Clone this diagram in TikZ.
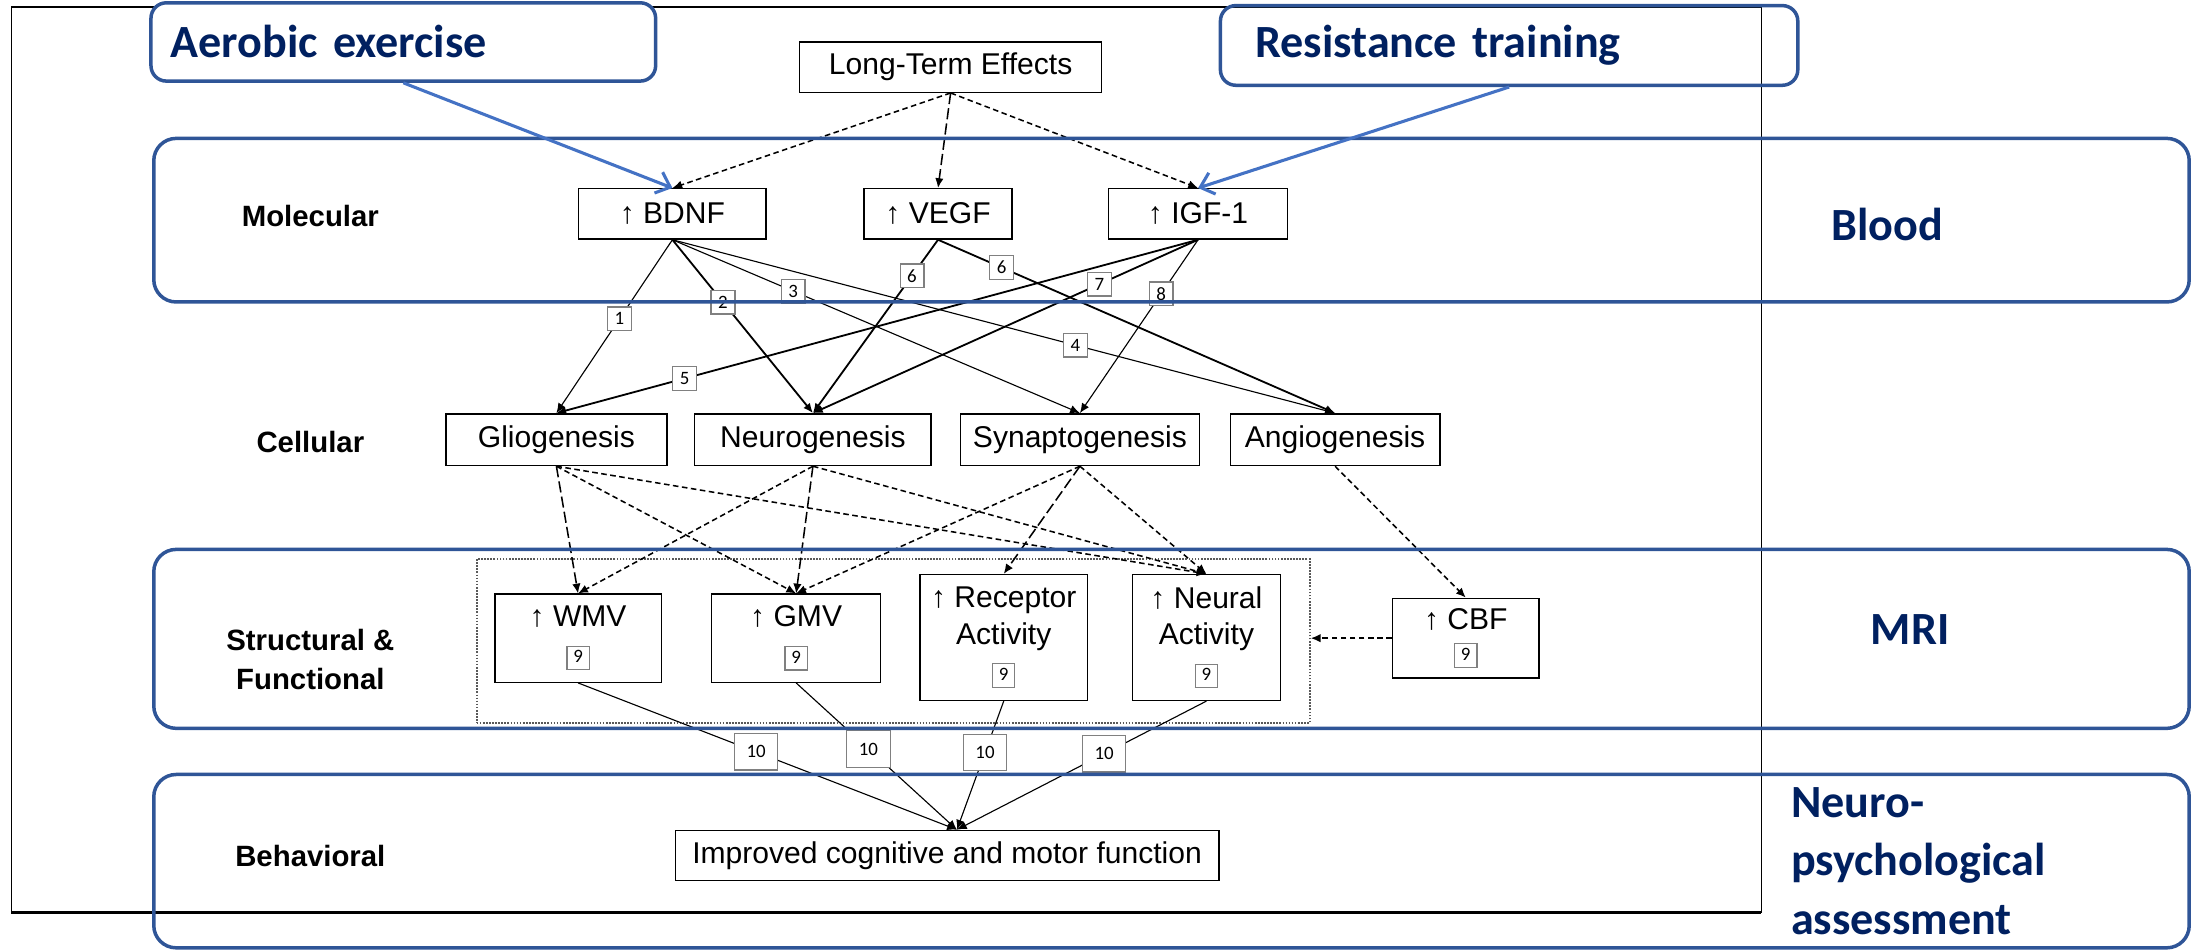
\documentclass[tikz,border=0pt]{standalone}
\usepackage{fontspec}
\setmainfont{Liberation Sans}
\newfontfamily\calibfont{Carlito}
\usetikzlibrary{arrows.meta}
\definecolor{bandblue}{RGB}{47,85,151}
\definecolor{navy}{RGB}{0,32,96}
\definecolor{arrblue}{RGB}{68,114,196}
\newcommand{\nbox}[1]{{\color{gray}\setlength{\fboxrule}{0.9pt}\setlength{\fboxsep}{0pt}\fbox{\color{black}\rule[-4.5pt]{0pt}{16pt}\makebox[15pt]{\calibfont\fontsize{13.5}{14}\selectfont #1}}}}

\begin{document}
\begin{tikzpicture}[x=1pt,y=-1pt,
	box/.style={draw, line width=1pt, inner sep=0pt, align=center, font=\fontsize{21.5}{26}\selectfont},
	lvl/.style={inner sep=0pt, align=center, font=\bfseries\fontsize{21}{28}\selectfont},
	num/.style={draw=gray, line width=0.9pt, fill=white, inner sep=0pt, minimum width=17pt, minimum height=17pt, font=\calibfont\fontsize{13.5}{14}\selectfont},
	bignum/.style={num, minimum width=31pt, minimum height=26pt},
	band/.style={draw=bandblue, line width=2.5pt, rounded corners=16pt},
	head/.style={draw=bandblue, line width=2.5pt, rounded corners=11pt, inner ysep=0pt, align=left, text=navy, font=\calibfont\bfseries\fontsize{33}{42}\selectfont},
	side/.style={inner sep=0pt, align=left, text=navy, font=\calibfont\bfseries\fontsize{33}{42}\selectfont},
	link/.style={-{Latex[length=7pt,width=6pt]}, line width=0.8pt},
	hlink/.style={link, line width=1.3pt},
	dsh/.style={link, line width=1.1pt, dash pattern=on 4pt off 2.5pt},
	ldsh/.style={link, line width=1.1pt, dash pattern=on 8pt off 3pt},
	sfx/.style={-{Straight Barb[length=9pt,width=16pt]}, draw=arrblue, line width=2.2pt}]
	\useasboundingbox (0,0) rectangle (1568,680);
	% outer frame
	\draw[line width=0.8pt] (8,653) -- (8,5) -- (1260,5) -- (1260,653);
	\draw[line width=2pt] (8,653) -- (1260,653);

	\node[box, minimum width=216pt, minimum height=36pt] (ltm) at (680,48) {Long-Term Effects};
	\node[box, minimum width=134pt, minimum height=36pt] (bdnf) at (481,153) {↑ BDNF};
	\node[box, minimum width=106pt, minimum height=36pt] (vegf) at (671,153) {↑ VEGF};
	\node[box, minimum width=128pt, minimum height=36pt] (igf) at (857,153) {↑ IGF-1};

	\node[box, minimum width=158pt, minimum height=37pt] (glio) at (398,314.5) {Gliogenesis};
	\node[box, minimum width=169pt, minimum height=37pt] (neuro) at (581.5,314.5) {Neurogenesis};
	\node[box, minimum width=171pt, minimum height=37pt] (synap) at (772.5,314.5) {Synaptogenesis};
	\node[box, minimum width=150pt, minimum height=37pt] (angio) at (955,314.5) {Angiogenesis};

	\node[draw=black!65, densely dotted, line width=1.2pt, minimum width=596pt, minimum height=117pt] (grp) at (639,458.5) {};
	\node[box, minimum width=119pt, minimum height=63pt] (wmv) at (413.5,456.5) {↑ WMV\\\nbox{9}};
	\node[box, minimum width=121pt, minimum height=63pt] (gmv) at (569.5,456.5) {↑ GMV\\\nbox{9}};
	\node[box, minimum width=120pt, minimum height=90pt] (recep) at (718,456) {↑ Receptor\\Activity\\\nbox{9}};
	\node[box, minimum width=106pt, minimum height=90pt] (neural) at (863,456) {↑ Neural\\Activity\\\nbox{9}};
	\node[box, minimum width=105pt, minimum height=57pt] (cbf) at (1048.5,456.5) {↑ CBF\\[-4pt]\nbox{9}};

	\node[box, minimum width=389pt, minimum height=36pt] (impr) at (677.5,612) {Improved cognitive and motor function};

	\node[lvl] (molec) at (222,154.5) {Molecular};
	\node[lvl] (cell) at (222,316) {Cellular};
	\node[lvl] (struc) at (222,471.5) {Structural \&\\Functional};
	\node[lvl] (behav) at (222,612.5) {Behavioral};

	\draw[dsh] (ltm.south) -- (bdnf.north);
	\draw[ldsh] (ltm.south) -- (vegf.north);
	\draw[dsh] (ltm.south) -- (igf.north);

	\draw[link] (bdnf.south) -- node[num, pos=0.456] (n1) {1} (glio.north);
	\draw[hlink] (bdnf.south) -- node[num, pos=0.36] (n2) {2} (neuro.north);
	\draw[link] (bdnf.south) -- node[num, pos=0.296] (n3) {3} (synap.north);
	\draw[link] (bdnf.south) -- node[num, pos=0.608] (n4) {4} (angio.north);
	\draw[hlink] (igf.south) -- node[num, pos=0.8] (n5) {5} (glio.north);
	\draw[hlink] (vegf.south) -- node[num, pos=0.208] (n6a) {6} (neuro.north);
	\draw[hlink] (vegf.south) -- node[num, pos=0.16] (n6b) {6} (angio.north);
	\draw[hlink] (igf.south) -- node[num, pos=0.256] (n7) {7} (neuro.north);
	\draw[link] (igf.south) -- node[num, pos=0.312] (n8) {8} (synap.north);

	\draw[ldsh] (glio.south) -- (wmv.north);
	\draw[dsh] (glio.south) -- (gmv.north);
	\draw[dsh] (glio.south) -- (neural.north);
	\draw[dsh] (neuro.south) -- (wmv.north);
	\draw[ldsh] (neuro.south) -- (gmv.north);
	\draw[dsh] (neuro.south) -- (neural.north);
	\draw[dsh] (synap.south) -- (gmv.north);
	\draw[ldsh] (synap.south) -- (recep.north);
	\draw[dsh] (synap.south) -- (neural.north);
	\draw[dsh] (angio.south) -- (cbf.north);
	\draw[dsh] (cbf.west) -- (cbf.west -| grp.east);

	\draw[link] (wmv.south) -- node[bignum, pos=0.47] (t1) {10} ([xshift=7pt]impr.north);
	\draw[link] (gmv.south) -- node[bignum, pos=0.45] (t2) {10} ([xshift=7pt]impr.north);
	\draw[link] (recep.south) -- node[bignum, pos=0.40] (t3) {10} ([xshift=7pt]impr.north);
	\draw[link] (neural.south) -- node[bignum, pos=0.41] (t4) {10} ([xshift=7pt]impr.north);

	% measurement bands
	\draw[band] (110,99) rectangle (1566,216);
	\draw[band] (110,393) rectangle (1566,521);
	\draw[band] (110,554) rectangle (1566,678);

	\node[head, fill=white, minimum height=56pt, inner xsep=14pt, text width=333pt] (aer) at (288.5,30) {Aerobic exercise};
	\node[head, minimum height=57pt, inner xsep=25pt, text width=363pt] (res) at (1079.5,32.5) {Resistance training};
	\draw[sfx] (aer.south) -- (bdnf.north);
	\draw[sfx] (res.south) -- (igf.north);

	\node[side, anchor=base west] (blood) at (1310,172) {Blood};
	\node[side, anchor=base west] (mri) at (1338,461) {MRI};
	\node[side, anchor=north west] (npa) at (1281,563) {Neuro-\\psychological\\assessment};
\end{tikzpicture}
\end{document}
